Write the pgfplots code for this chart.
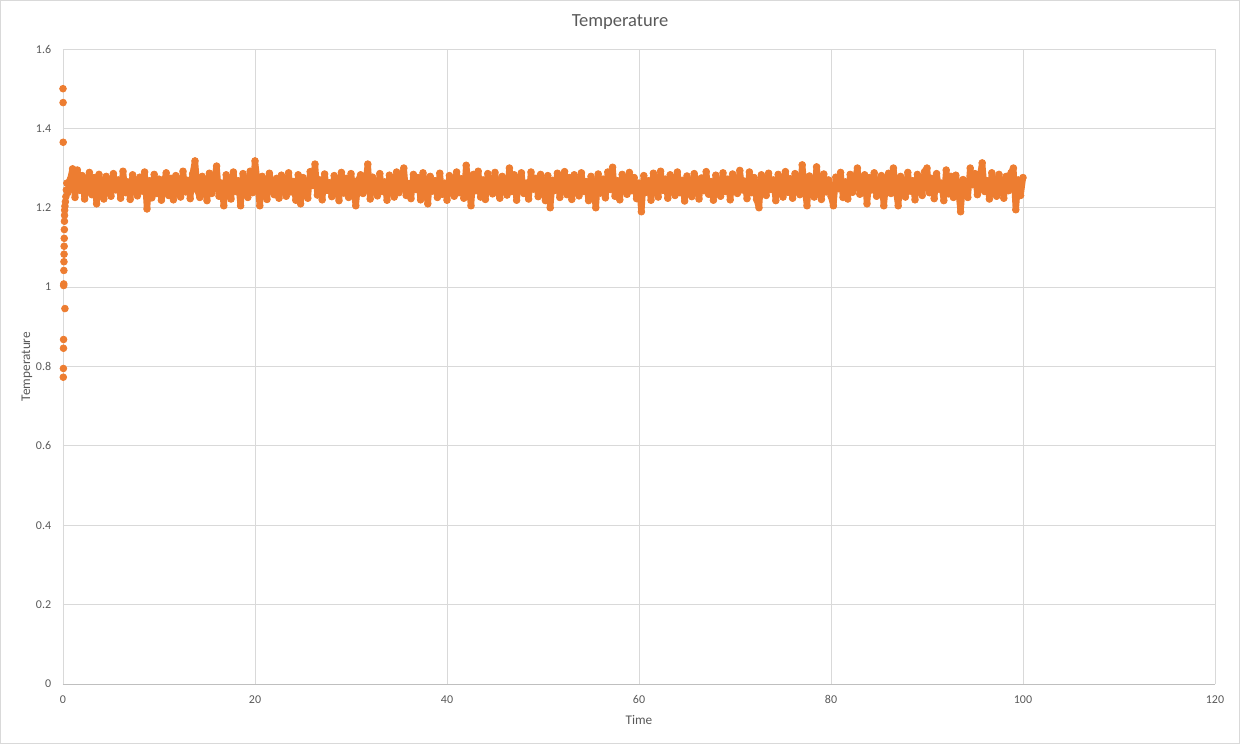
\documentclass[border=0pt]{standalone}
\usepackage{fontspec}
\setmainfont{Carlito}
\usepackage{pgfplots}
\pgfplotsset{compat=1.18}
\definecolor{orangec}{HTML}{ED7D31}
\definecolor{gridc}{HTML}{D9D9D9}
\definecolor{axc}{HTML}{BFBFBF}
\definecolor{txtc}{HTML}{595959}

\begin{document}
\begin{tikzpicture}
\begin{axis}[
    scale only axis,
    width=460.8pt, height=254pt,
    xmin=0, xmax=120, ymin=0, ymax=1.6,
    xtick={0,20,...,120},
    ytick={0,0.2,...,1.6},
    grid=major,
    grid style={gridc, line width=0.35pt},
    axis lines*=left,
    x axis line style={axc, line width=0.4pt, -},
    y axis line style={gridc, line width=0.35pt, -},
    tick style={draw=none},
    /pgf/number format/assume math mode=true,
    yticklabel style={/pgf/number format/fixed, /pgf/number format/precision=1},
    ticklabel style={font=\fontsize{4.8}{6}\selectfont, text=txtc},
    xticklabel style={yshift=-1pt},
    yticklabel style={xshift=-1.2pt},
    every axis title shift=0pt,
    title={Temperature},
    title style={at={(0.4835,1.0425)}, anchor=center, font=\fontsize{7.4}{9}\selectfont, text=txtc},
    xlabel={Time},
    xlabel style={at={(0.5,-0.0567)}, anchor=center, font=\fontsize{5.3}{6.5}\selectfont, text=txtc},
    ylabel={Temperature},
    ylabel style={at={(-0.0313,0.5)}, anchor=center, rotate=0, font=\fontsize{5.3}{6.5}\selectfont, text=txtc},
    clip=false,
]
% start of the run: single dots only
\addplot[only marks, mark=*, mark size=1.35pt, color=orangec, mark options={solid, draw=orangec, fill=orangec, line width=0.3pt}]
    coordinates {
    (0,1.5) (0.01,1.465) (0.02,1.365) (0.03,0.773) (0.04,0.795) (0.05,0.846)
    (0.06,0.868) (0.2,0.946) (0.07,1.004) (0.08,1.008) (0.09,1.042) (0.1,1.064)
    (0.11,1.083) (0.12,1.103) (0.13,1.123) (0.14,1.145) (0.15,1.166) (0.16,1.181)
    (0.17,1.194) (0.2,1.204) (0.25,1.215) (0.3,1.228) (0.35,1.245) (0.4,1.262)
    };
% equilibrated part
\addplot[color=orangec, line width=2.5pt, line join=round, line cap=round,
    mark=*, mark size=1.35pt, mark options={solid, draw=orangec, fill=orangec, line width=0.3pt}]
    coordinates {
    (0.5,1.238) (0.75,1.271) (1.0,1.298) (1.25,1.226) (1.5,1.295) (1.75,1.244) (2.0,1.281) (2.25,1.222) (2.5,1.266) (2.75,1.289)
    (3.0,1.233) (3.25,1.276) (3.5,1.210) (3.75,1.284) (4.0,1.249) (4.25,1.222) (4.5,1.279) (4.75,1.256) (5.0,1.229) (5.25,1.286)
    (5.5,1.245) (5.75,1.270) (6.0,1.224) (6.25,1.292) (6.5,1.238) (6.75,1.265) (7.0,1.221) (7.25,1.283) (7.5,1.251) (7.75,1.230)
    (8.0,1.277) (8.25,1.242) (8.5,1.290) (8.75,1.197) (9.0,1.268) (9.25,1.225) (9.5,1.284) (9.75,1.236) (10.0,1.272) (10.25,1.219)
    (10.5,1.262) (10.75,1.288) (11.0,1.231) (11.25,1.274) (11.5,1.220) (11.75,1.281) (12.0,1.247) (12.25,1.227) (12.5,1.292) (12.75,1.240)
    (13.0,1.269) (13.25,1.223) (13.5,1.285) (13.75,1.318) (14.0,1.244) (14.25,1.226) (14.5,1.279) (14.75,1.255) (15.0,1.218) (15.25,1.287)
    (15.5,1.236) (15.75,1.271) (16.0,1.305) (16.25,1.229) (16.5,1.262) (16.75,1.205) (17.0,1.283) (17.25,1.248) (17.5,1.222) (17.75,1.290)
    (18.0,1.241) (18.25,1.268) (18.5,1.205) (18.75,1.286) (19.0,1.253) (19.25,1.226) (19.5,1.292) (19.75,1.238) (20.0,1.318) (20.25,1.264)
    (20.5,1.205) (20.75,1.279) (21.0,1.246) (21.25,1.221) (21.5,1.287) (21.75,1.258) (22.0,1.233) (22.25,1.274) (22.5,1.224) (22.75,1.282)
    (23.0,1.250) (23.25,1.229) (23.5,1.288) (23.75,1.240) (24.0,1.266) (24.25,1.219) (24.5,1.283) (24.75,1.210) (25.0,1.276) (25.25,1.247)
    (25.5,1.224) (25.75,1.291) (26.0,1.256) (26.25,1.310) (26.5,1.232) (26.75,1.270) (27.0,1.220) (27.25,1.285) (27.5,1.244) (27.75,1.263)
    (28.0,1.228) (28.25,1.281) (28.5,1.251) (28.75,1.218) (29.0,1.289) (29.25,1.237) (29.5,1.274) (29.75,1.226) (30.0,1.286) (30.25,1.245)
    (30.5,1.205) (30.75,1.269) (31.0,1.283) (31.25,1.236) (31.5,1.258) (31.75,1.310) (32.0,1.222) (32.25,1.277) (32.5,1.248) (32.75,1.230)
    (33.0,1.286) (33.25,1.241) (33.5,1.265) (33.75,1.219) (34.0,1.282) (34.25,1.253) (34.5,1.227) (34.75,1.290) (35.0,1.238) (35.25,1.272)
    (35.5,1.300) (35.75,1.231) (36.0,1.261) (36.25,1.223) (36.5,1.284) (36.75,1.246) (37.0,1.276) (37.25,1.220) (37.5,1.288) (37.75,1.256)
    (38.0,1.210) (38.25,1.279) (38.5,1.242) (38.75,1.268) (39.0,1.226) (39.25,1.287) (39.5,1.234) (39.75,1.262) (40.0,1.219) (40.25,1.281)
    (40.5,1.249) (40.75,1.229) (41.0,1.290) (41.25,1.238) (41.5,1.273) (41.75,1.224) (42.0,1.307) (42.25,1.260) (42.5,1.205) (42.75,1.284)
    (43.0,1.243) (43.25,1.292) (43.5,1.227) (43.75,1.270) (44.0,1.221) (44.25,1.286) (44.5,1.252) (44.75,1.235) (45.0,1.289) (45.25,1.246)
    (45.5,1.224) (45.75,1.279) (46.0,1.258) (46.25,1.232) (46.5,1.300) (46.75,1.241) (47.0,1.283) (47.25,1.219) (47.5,1.267) (47.75,1.288)
    (48.0,1.236) (48.25,1.262) (48.5,1.222) (48.75,1.290) (49.0,1.247) (49.25,1.274) (49.5,1.228) (49.75,1.284) (50.0,1.253) (50.25,1.218)
    (50.5,1.281) (50.75,1.200) (51.0,1.269) (51.25,1.244) (51.5,1.287) (51.75,1.226) (52.0,1.259) (52.25,1.291) (52.5,1.233) (52.75,1.276)
    (53.0,1.221) (53.25,1.283) (53.5,1.249) (53.75,1.230) (54.0,1.288) (54.25,1.241) (54.5,1.266) (54.75,1.218) (55.0,1.279) (55.25,1.255)
    (55.5,1.200) (55.75,1.285) (56.0,1.237) (56.25,1.272) (56.5,1.225) (56.75,1.290) (57.0,1.246) (57.25,1.302) (57.5,1.229) (57.75,1.268)
    (58.0,1.220) (58.25,1.284) (58.5,1.252) (58.75,1.234) (59.0,1.289) (59.25,1.243) (59.5,1.276) (59.75,1.223) (60.0,1.262) (60.25,1.190)
    (60.5,1.281) (60.75,1.239) (61.0,1.268) (61.25,1.219) (61.5,1.287) (61.75,1.250) (62.0,1.227) (62.25,1.292) (62.5,1.244) (62.75,1.272)
    (63.0,1.224) (63.25,1.283) (63.5,1.256) (63.75,1.231) (64.0,1.290) (64.25,1.238) (64.5,1.269) (64.75,1.217) (65.0,1.280) (65.25,1.247)
    (65.5,1.228) (65.75,1.286) (66.0,1.261) (66.25,1.222) (66.5,1.275) (66.75,1.243) (67.0,1.291) (67.25,1.234) (67.5,1.266) (67.75,1.219)
    (68.0,1.282) (68.25,1.250) (68.5,1.229) (68.75,1.288) (69.0,1.241) (69.25,1.272) (69.5,1.220) (69.75,1.285) (70.0,1.257) (70.25,1.236)
    (70.5,1.294) (70.75,1.245) (71.0,1.267) (71.25,1.223) (71.5,1.290) (71.75,1.238) (72.0,1.276) (72.25,1.221) (72.5,1.200) (72.75,1.283)
    (73.0,1.256) (73.25,1.231) (73.5,1.287) (73.75,1.246) (74.0,1.270) (74.25,1.218) (74.5,1.284) (74.75,1.252) (75.0,1.227) (75.25,1.291)
    (75.5,1.239) (75.75,1.273) (76.0,1.224) (76.25,1.286) (76.5,1.262) (76.75,1.233) (77.0,1.308) (77.25,1.251) (77.5,1.205) (77.75,1.280)
    (78.0,1.244) (78.25,1.227) (78.5,1.303) (78.75,1.258) (79.0,1.221) (79.25,1.285) (79.5,1.240) (79.75,1.270) (80.0,1.229) (80.25,1.205)
    (80.5,1.277) (80.75,1.248) (81.0,1.289) (81.25,1.226) (81.5,1.265) (81.75,1.222) (82.0,1.284) (82.25,1.239) (82.5,1.271) (82.75,1.300)
    (83.0,1.234) (83.25,1.262) (83.5,1.283) (83.75,1.210) (84.0,1.276) (84.25,1.245) (84.5,1.288) (84.75,1.229) (85.0,1.256) (85.25,1.281)
    (85.5,1.205) (85.75,1.270) (86.0,1.287) (86.25,1.236) (86.5,1.300) (86.75,1.248) (87.0,1.205) (87.25,1.279) (87.5,1.261) (87.75,1.227)
    (88.0,1.289) (88.25,1.242) (88.5,1.268) (88.75,1.220) (89.0,1.284) (89.25,1.253) (89.5,1.231) (89.75,1.291) (90.0,1.300) (90.25,1.238)
    (90.5,1.274) (90.75,1.223) (91.0,1.286) (91.25,1.247) (91.5,1.262) (91.75,1.218) (92.0,1.295) (92.25,1.235) (92.5,1.279) (92.75,1.226)
    (93.0,1.282) (93.25,1.250) (93.5,1.190) (93.75,1.271) (94.0,1.238) (94.25,1.226) (94.5,1.300) (94.75,1.258) (95.0,1.286) (95.25,1.233)
    (95.5,1.277) (95.75,1.313) (96.0,1.241) (96.25,1.268) (96.5,1.222) (96.75,1.288) (97.0,1.249) (97.25,1.229) (97.5,1.284) (97.75,1.256)
    (98.0,1.224) (98.25,1.279) (98.5,1.243) (98.75,1.288) (99.0,1.300) (99.25,1.195) (99.5,1.270) (99.75,1.231) (100.0,1.276)
    };
\end{axis}
% chart border
\draw[gridc, line width=0.4pt] (-24.8pt,-23.6pt) rectangle (470.4pt,273.2pt);
\pgfresetboundingbox
\path[use as bounding box] (-25.2pt,-24pt) rectangle (470.8pt,273.6pt);
\end{tikzpicture}
\end{document}
